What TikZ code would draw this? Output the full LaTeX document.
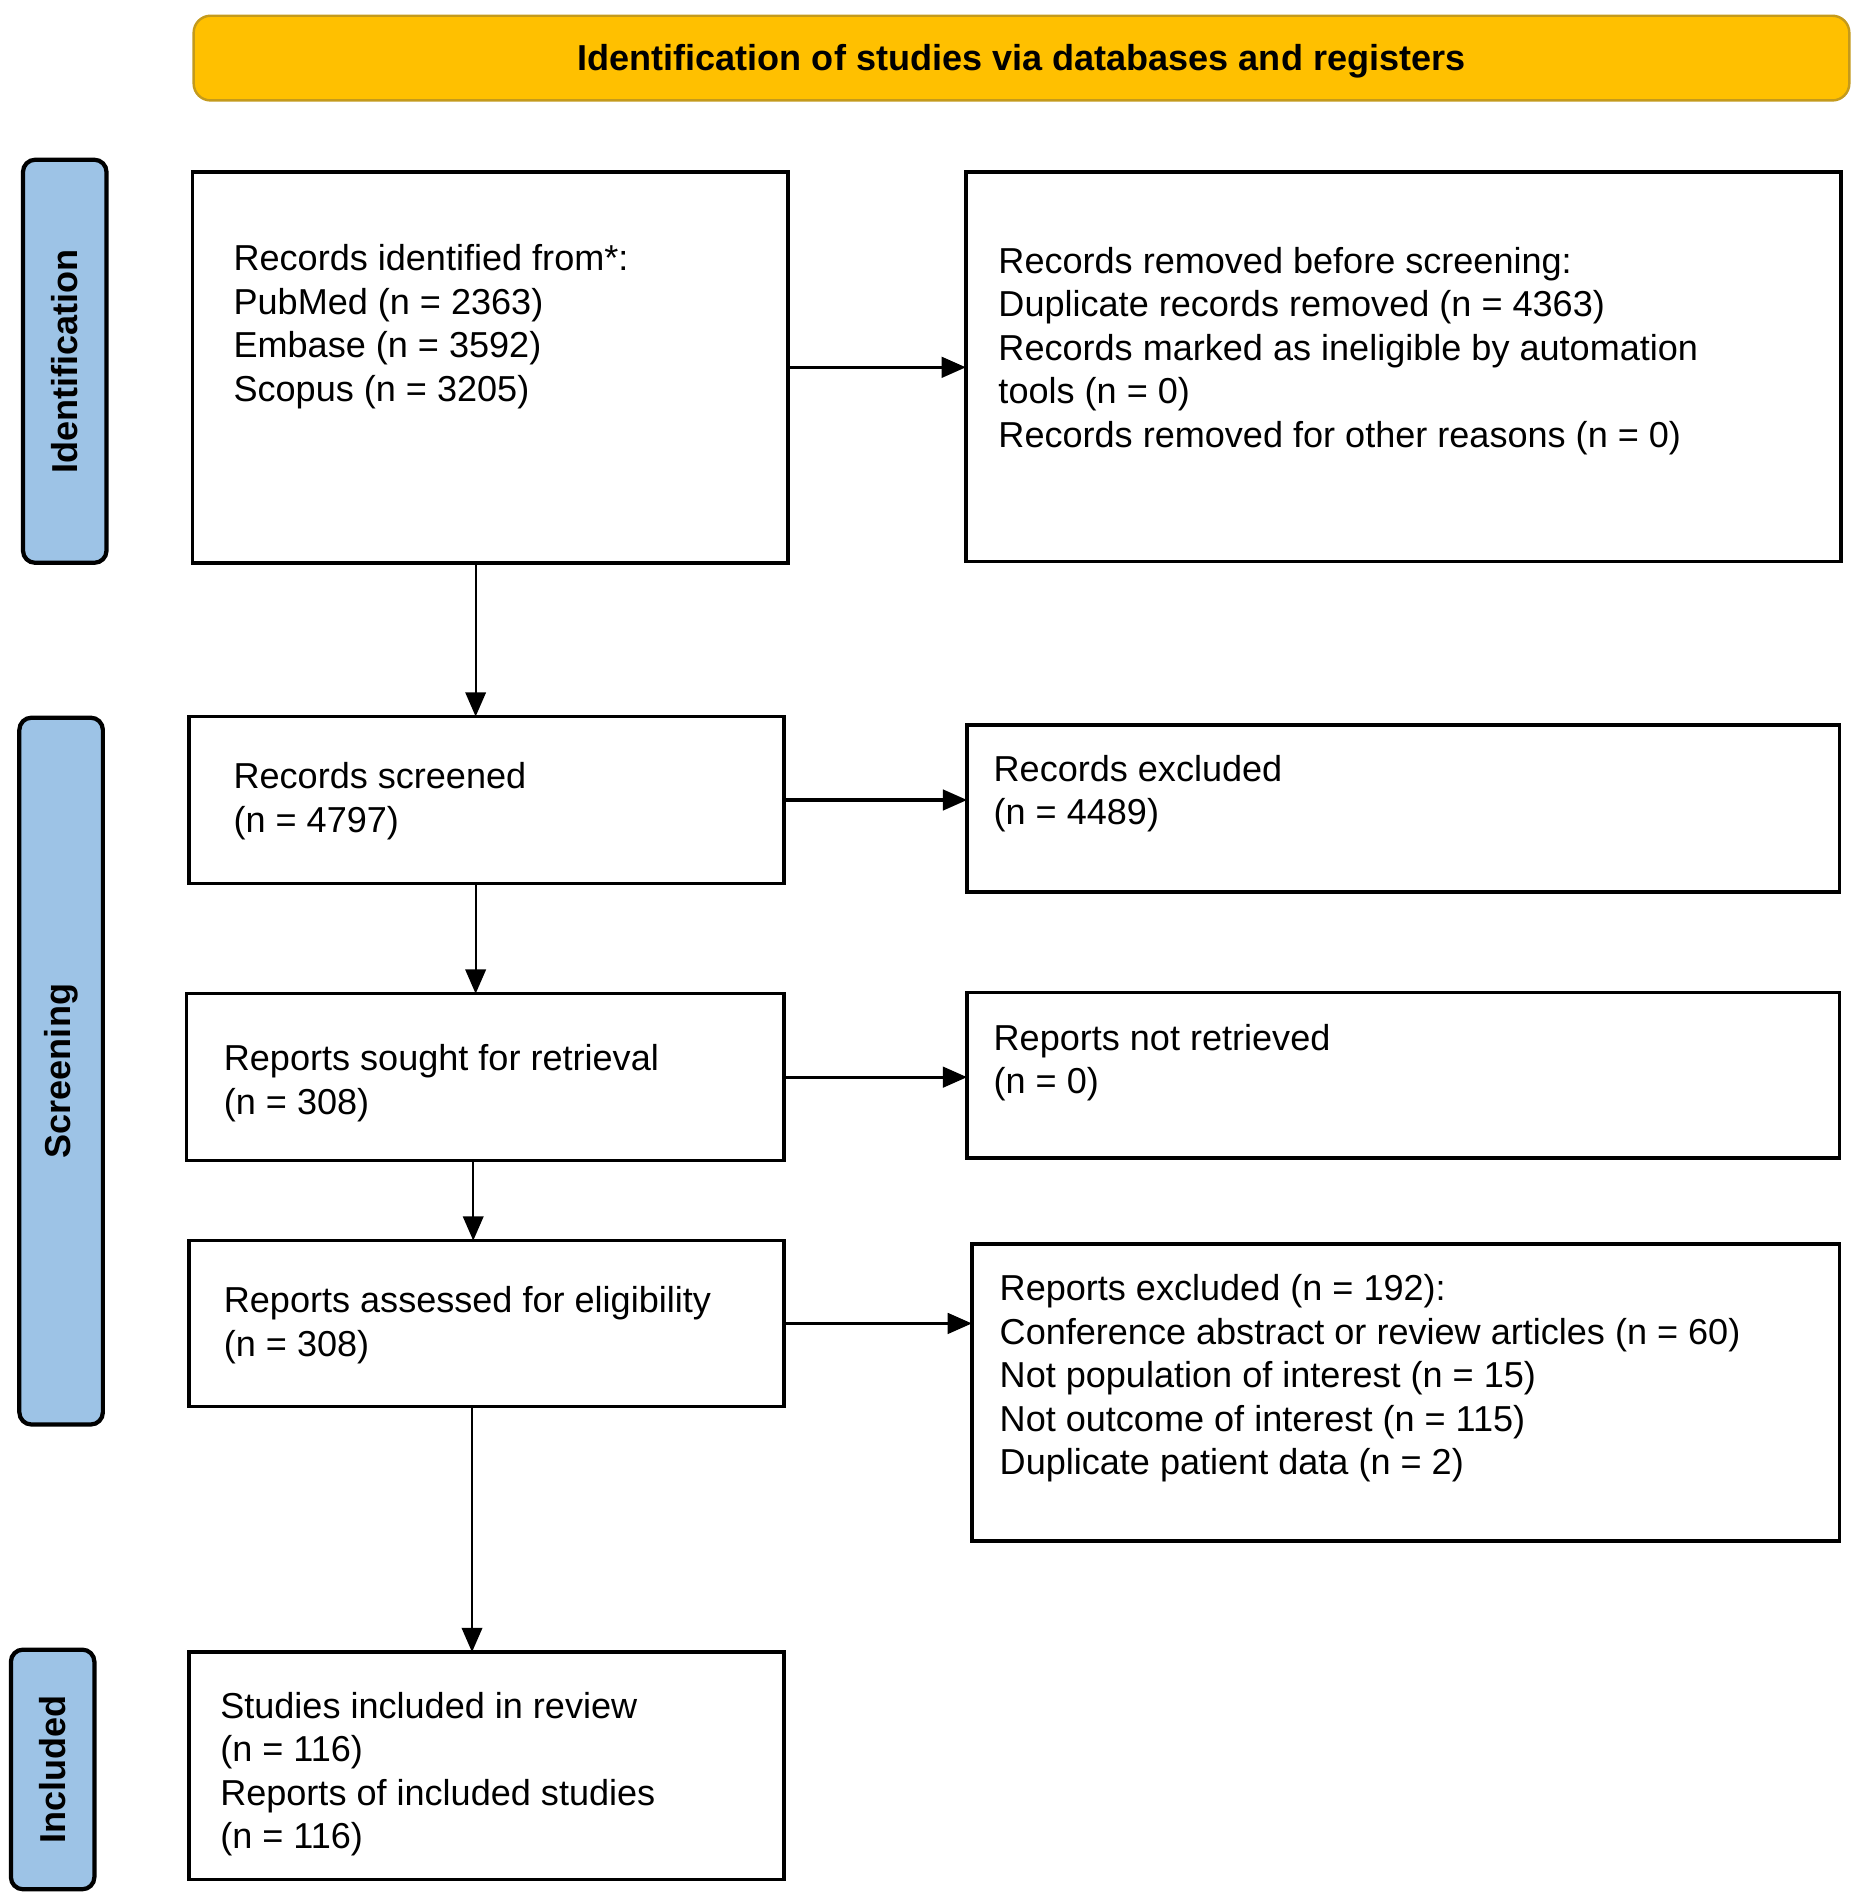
\documentclass[tikz,border=0pt]{standalone}
\usepackage{fontspec}
\setmainfont{Liberation Sans}
\usetikzlibrary{arrows.meta,calc}
\definecolor{labblue}{HTML}{9DC3E6}
\definecolor{hdryellow}{HTML}{FFC000}
\definecolor{hdrborder}{HTML}{C49A1C}
\begin{document}
\begin{tikzpicture}[x=1pt,y=-1pt,
  box/.style={draw=black, line width=3pt, fill=white, anchor=north west, inner sep=0pt, outer sep=0pt},
  lab/.style={draw=black, line width=3.5pt, fill=labblue, rounded corners=10pt, anchor=north west, inner sep=0pt, outer sep=0pt},
  labtxt/.style={rotate=90, inner sep=0pt, font=\fontsize{29.8}{36}\selectfont\bfseries},
  txt/.style={anchor=north west, inner sep=0pt, outer sep=0pt, align=left, font=\fontsize{29.8}{36}\selectfont},
  arr/.style={line width=1.5pt, -{Triangle[length=20pt,width=17pt]}},
  harr/.style={line width=2.5pt, -{Triangle[length=20pt,width=17pt]}}
]
\fill[white] (0,0) rectangle (1536,1567.4);
\useasboundingbox (0,0) rectangle (1536,1567.4);

% header
\node[draw=hdrborder, line width=2pt, fill=hdryellow, rounded corners=14pt, anchor=north west,
  minimum width=1368pt, minimum height=70pt, inner sep=0pt, outer sep=0pt,
  text height=21.3pt, text depth=0pt,
  font=\fontsize{29.8}{36}\selectfont\bfseries] (hdr) at (160,13) {Identification of studies via databases and registers};

% phase labels
\node[lab, minimum width=69pt, minimum height=333pt] (L1) at (19,132) {};
\node[labtxt] (L1t) at (L1.center) {Identification};
\node[lab, minimum width=69pt, minimum height=584pt] (L2) at (16,593) {};
\node[labtxt] (L2t) at (L2.center) {Screening};
\node[lab, minimum width=69pt, minimum height=198pt] (L3) at (9,1363) {};
\node[labtxt] (L3t) at (L3.center) {Included};

% boxes
\node[box, minimum width=492pt, minimum height=323pt] (b1) at (159,142) {};
\node[box, minimum width=723pt, minimum height=322pt] (b2) at (798,142) {};
\node[box, minimum width=492pt, minimum height=138pt] (b3) at (156,592) {};
\node[box, minimum width=721pt, minimum height=138pt] (b4) at (799,599) {};
\node[box, minimum width=494pt, minimum height=138pt] (b5) at (154,821) {};
\node[box, minimum width=721pt, minimum height=137pt] (b6) at (799,820) {};
\node[box, minimum width=492pt, minimum height=137pt] (b7) at (156,1025) {};
\node[box, minimum width=717pt, minimum height=245pt] (b8) at (803,1028) {};
\node[box, minimum width=492pt, minimum height=188pt] (b9) at (156,1365) {};

% texts
\node[txt] (t1) at (193,198.6) {\rule{0pt}{25pt}Records identified from*:\\PubMed (n = 2363)\\Embase (n = 3592)\\Scopus (n = 3205)};
\node[txt] (t2) at (825,200.6) {\rule{0pt}{25pt}Records removed before screening:\\Duplicate records removed (n = 4363)\\Records marked as ineligible by automation\\tools (n = 0)\\Records removed for other reasons (n = 0)};
\node[txt] (t3) at (193,626.6) {\rule{0pt}{25pt}Records screened\\(n = 4797)};
\node[txt] (t4) at (821,620.6) {\rule{0pt}{25pt}Records excluded\\(n = 4489)};
\node[txt] (t5) at (185,859.6) {\rule{0pt}{25pt}Reports sought for retrieval\\(n = 308)};
\node[txt] (t6) at (821,842.6) {\rule{0pt}{25pt}Reports not retrieved\\(n = 0)};
\node[txt] (t7) at (185,1059.6) {\rule{0pt}{25pt}Reports assessed for eligibility\\(n = 308)};
\node[txt] (t8) at (826,1049.6) {\rule{0pt}{25pt}Reports excluded (n = 192):\\Conference abstract or review articles (n = 60)\\Not population of interest (n = 15)\\Not outcome of interest (n = 115)\\Duplicate patient data (n = 2)};
\node[txt] (t9) at (182,1394.6) {\rule{0pt}{25pt}Studies included in review\\(n = 116)\\Reports of included studies\\(n = 116)};

% connector columns
\coordinate (v1) at (393,0);
\coordinate (v2) at (393,0);
\coordinate (v3) at (391,0);
\coordinate (v4) at (390,0);

% vertical arrows
\draw[arr] (b1.south -| v1) -- (b3.north -| v1);
\draw[arr] (b3.south -| v2) -- (b5.north -| v2);
\draw[arr] (b5.south -| v3) -- (b7.north -| v3);
\draw[arr] (b7.south -| v4) -- (b9.north -| v4);

% horizontal arrows
\draw[harr] (b1.east) -- (b1.east -| b2.west);
\draw[harr] (b3.east) -- (b3.east -| b4.west);
\draw[harr] (b5.east) -- (b5.east -| b6.west);
\draw[harr] (b7.east) -- (b7.east -| b8.west);
\end{tikzpicture}
\end{document}
